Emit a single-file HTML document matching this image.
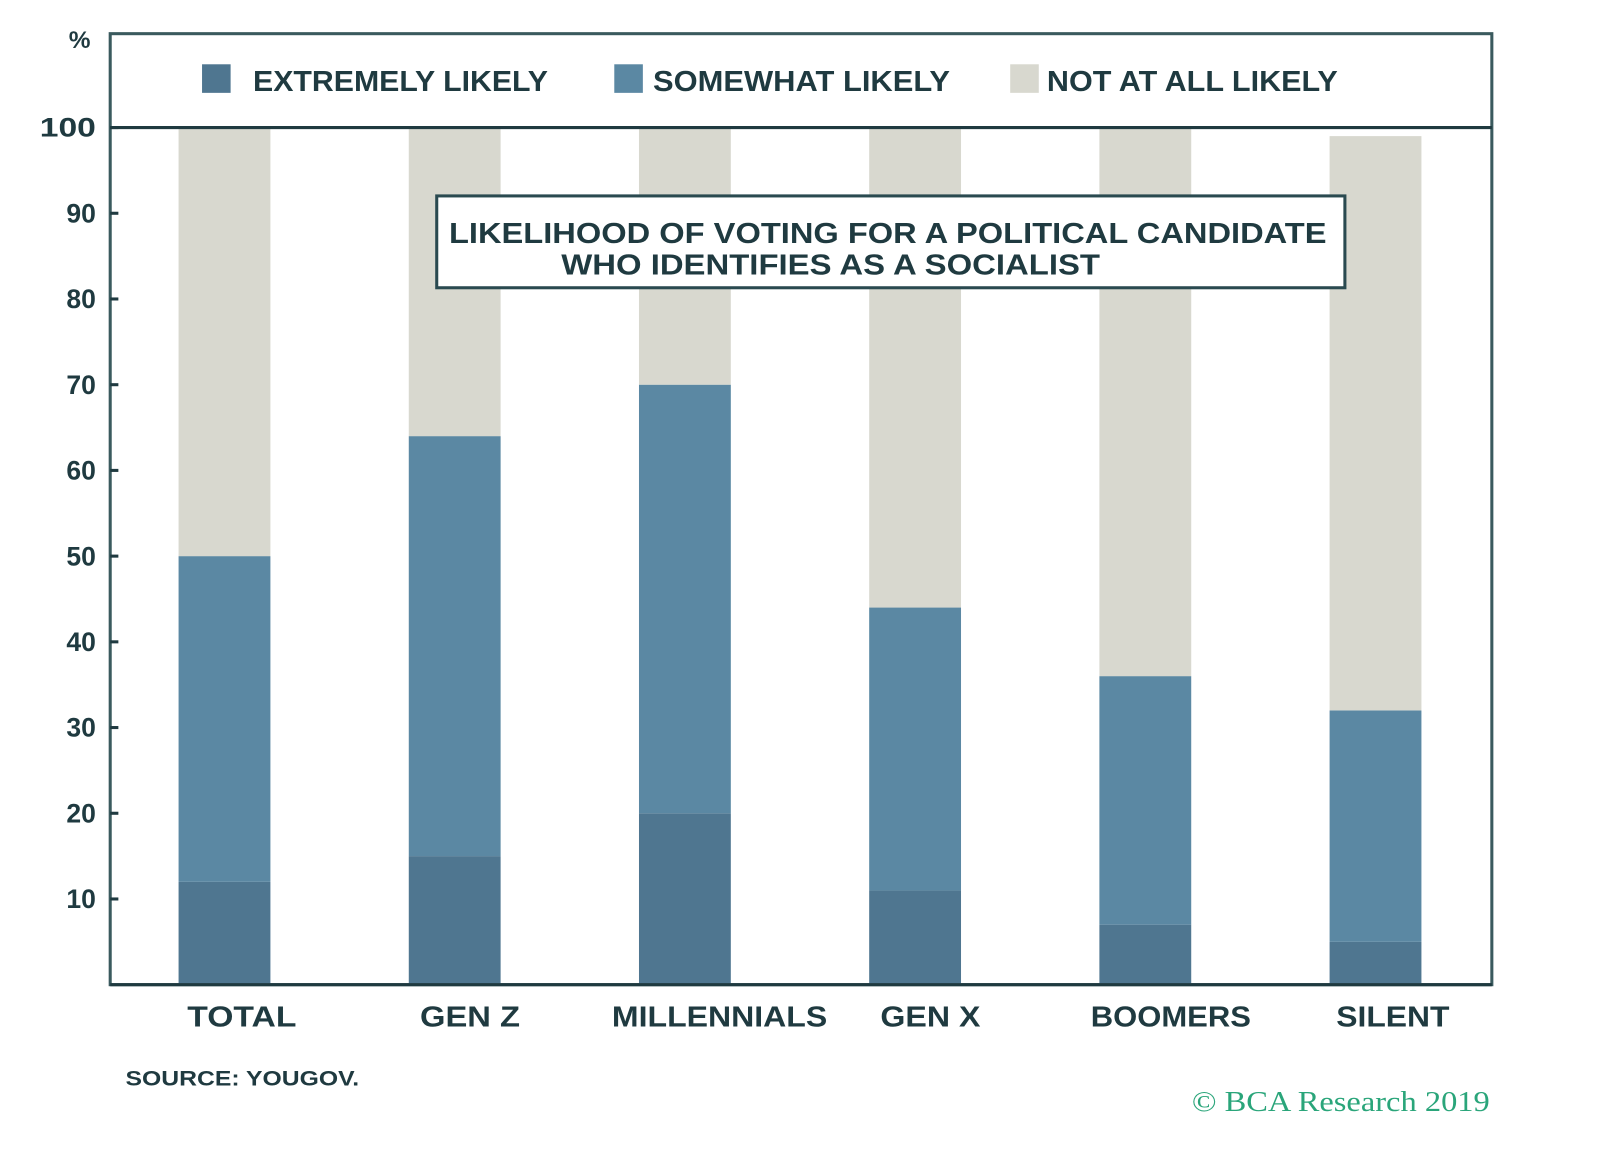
<!DOCTYPE html>
<html><head><meta charset="utf-8"><style>
body{margin:0;background:#fff;}
svg text{font-family:"Liberation Sans",sans-serif;font-weight:bold;fill:#1f3a40;}
</style></head><body>
<svg width="1600" height="1150" viewBox="0 0 1568 1127">
<rect x="108" y="33" width="1354" height="932" fill="#fff" stroke="#3a5a5e" stroke-width="3"/>
<g id="bars"></g>
<line x1="108" y1="125" x2="1462" y2="125" stroke="#1f3a40" stroke-width="3"/>
<line x1="108" y1="965" x2="1462" y2="965" stroke="#1f3a40" stroke-width="3"/>
<g id="yticks"></g>
<g id="xlabels"></g>
<text x="78" y="47" font-size="24" text-anchor="middle" font-weight="normal">%</text>
<g>
<rect x="198" y="63" width="28" height="28" fill="#4f7690"/>
<text x="248" y="89" font-size="28" textLength="289" lengthAdjust="spacingAndGlyphs">EXTREMELY LIKELY</text>
<rect x="602" y="63" width="28" height="28" fill="#5b88a3"/>
<text x="640" y="89" font-size="28" textLength="291" lengthAdjust="spacingAndGlyphs">SOMEWHAT LIKELY</text>
<rect x="990" y="63" width="28" height="28" fill="#d8d8cf"/>
<text x="1026" y="89" font-size="28" textLength="285" lengthAdjust="spacingAndGlyphs">NOT AT ALL LIKELY</text>
</g>
<g>
<rect x="428" y="192" width="890" height="90" fill="#fff" stroke="#2a4a50" stroke-width="3"/>
<text x="440" y="238" font-size="28" textLength="860" lengthAdjust="spacingAndGlyphs">LIKELIHOOD OF VOTING FOR A POLITICAL CANDIDATE</text>
<text x="550" y="269" font-size="28" textLength="528" lengthAdjust="spacingAndGlyphs">WHO IDENTIFIES AS A SOCIALIST</text>
</g>
<text x="123" y="1064" font-size="21" textLength="229" lengthAdjust="spacingAndGlyphs">SOURCE: YOUGOV.</text>
<text x="1168" y="1089" font-size="28" textLength="292" lengthAdjust="spacingAndGlyphs" style="font-family:'Liberation Serif',serif;font-weight:normal;fill:#2aa57a">© BCA Research 2019</text>
</svg>
<script>
const categories=["TOTAL","GEN Z","MILLENNIALS","GEN X","BOOMERS","SILENT"];
const extremely=[12,15,20,11,7,5];
const somewhat=[38,49,50,33,29,27];
const notLikely=[50,36,30,56,64,67];
const yTicks=[10,20,30,40,50,60,70,80,90,100];
const NS="http://www.w3.org/2000/svg";
const y=v=>965-v*8.4;
const xc=i=>220+i*225.6;
const bw=90;
const labelShift=[17,15,34,15,25,17];
const labelWidth=[107,98,211,98,157,111];
const bars=document.getElementById('bars');
function mk(tag,attrs,parent){const e=document.createElementNS(NS,tag);for(const k in attrs)e.setAttribute(k,attrs[k]);parent.appendChild(e);return e;}
categories.forEach((c,i)=>{
  let base=0;
  [[extremely,"#4f7690","extremely"],[somewhat,"#5b88a3","somewhat"],[notLikely,"#d8d8cf","not-at-all"]].forEach(([arr,col,nm])=>{
    const v=arr[i];
    const r=mk('rect',{x:xc(i)-bw/2,y:y(base+v),width:bw,height:v*8.4,fill:col},bars);
    
    
    base+=v;
  });
  const t=mk('text',{x:xc(i)+labelShift[i],y:1006,'font-size':28,'text-anchor':'middle',textLength:labelWidth[i],lengthAdjust:'spacingAndGlyphs'},document.getElementById('xlabels'));
  t.textContent=c;
  
  
});
const yt=document.getElementById('yticks');
yTicks.forEach(v=>{
  const l=mk('line',{x1:108,x2:116,y1:y(v),y2:y(v),stroke:'#1f3a40','stroke-width':3},yt);
  
  
  const t=mk('text',{x:94,y:y(v)+9,'font-size':26,'text-anchor':'end'},yt);
  if(v===100){t.setAttribute('textLength',55);t.setAttribute('lengthAdjust','spacingAndGlyphs');}
  t.textContent=v;
  
  
});
</script>
</body></html>
